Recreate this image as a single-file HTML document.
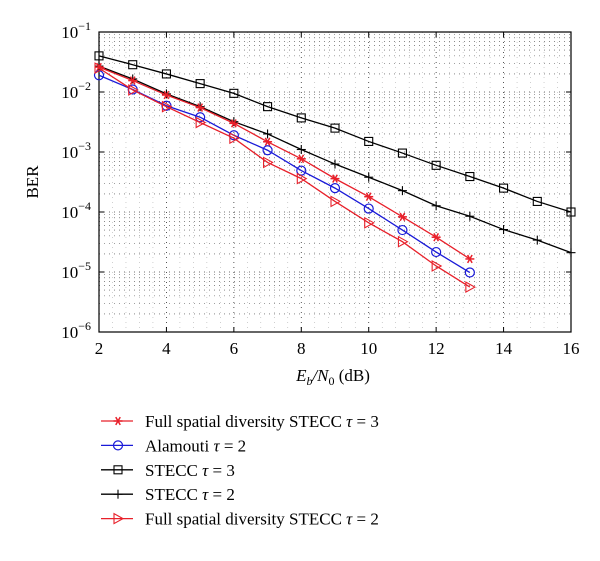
<!DOCTYPE html>
<html><head><meta charset="utf-8"><style>
body{margin:0;background:#fff;}
svg{display:block;font-family:"Liberation Serif",serif;}
</style></head><body>
<svg id="chart" width="600" height="561"></svg>
<script>
const xTicks=[2,4,6,8,10,12,14,16];
const yExps=[-1,-2,-3,-4,-5,-6];
const seriesNames=["Full spatial diversity STECC","Alamouti","STECC","STECC","Full spatial diversity STECC"];
const seriesTau=[3,2,3,2,2];
const xFull=[2,3,4,5,6,7,8,9,10,11,12,13];
const xLong=[2,3,4,5,6,7,8,9,10,11,12,13,14,15,16];
const berFull3=[0.026,0.0155,0.0089,0.0055,0.003,0.00148,0.00077,0.00036,0.00018,0.000083,0.000038,0.0000165];
const berAlamouti=[0.019,0.011,0.0059,0.0038,0.0019,0.00107,0.00049,0.00025,0.000114,0.00005,0.0000215,0.0000098];
const berStecc3=[0.040,0.0285,0.020,0.0138,0.0095,0.0057,0.0037,0.0025,0.0015,0.00096,0.0006,0.00039,0.00025,0.00015,0.0001];
const berStecc2=[0.027,0.0165,0.0093,0.0057,0.0032,0.002,0.0011,0.00063,0.00038,0.000227,0.000127,0.000085,0.000051,0.000034,0.000021];
const berFull2=[0.025,0.0108,0.0057,0.0031,0.0017,0.00067,0.00036,0.00015,0.000066,0.000032,0.0000126,0.0000056];

const NS="http://www.w3.org/2000/svg";
const svg=document.getElementById('chart');
const L=99,R=571,T=32,B=332;
function sx(v){return L+(v-2)/(16-2)*(R-L);}
function sy(v){return T+(-1-Math.log10(v))/5*(B-T);}
function mk(tag,attrs,parent){const e=document.createElementNS(NS,tag);for(const k in attrs)e.setAttribute(k,attrs[k]);(parent||svg).appendChild(e);return e;}

const grid=mk('g',{});


for(let e=-6;e<-1;e++){for(let m=1;m<=9;m++){const v=m*Math.pow(10,e);const y=sy(v);
 mk('line',{x1:L,x2:R,y1:y,y2:y,stroke:'#444','stroke-width':m==1?0.8:0.6,'stroke-dasharray':'1,4'},grid);}}
for(let x=2.4;x<16;x+=0.4){const X=sx(x);
 mk('line',{x1:X,x2:X,y1:T,y2:B,stroke:'#888','stroke-width':0.4,'stroke-dasharray':'1,4'},grid);}
for(const t of xTicks){const X=sx(t);mk('line',{x1:X,x2:X,y1:T,y2:B,stroke:'#333','stroke-width':0.8,'stroke-dasharray':'1,4'},grid);}

const box=mk('rect',{x:L,y:T,width:R-L,height:B-T,fill:'none',stroke:'#000','stroke-width':1.2});


for(const t of xTicks){const X=sx(t);
 mk('line',{x1:X,x2:X,y1:B,y2:B-5,stroke:'#000'});mk('line',{x1:X,x2:X,y1:T,y2:T+5,stroke:'#000'});
 const tx=mk('text',{x:X,y:B+22,'text-anchor':'middle','font-size':17});tx.textContent=t;
 
 }
for(const e of yExps){const Y=sy(Math.pow(10,e));
 mk('line',{x1:L,x2:L+5,y1:Y,y2:Y,stroke:'#000'});mk('line',{x1:R,x2:R-5,y1:Y,y2:Y,stroke:'#000'});
 const tx=mk('text',{x:L-8,y:Y+6,'text-anchor':'end','font-size':17});
 tx.innerHTML='10<tspan dy="-8" font-size="12">'+(e<0?'−':'')+Math.abs(e)+'</tspan>';
 
 }
const yl=mk('text',{x:0,y:0,transform:'translate(38,182) rotate(-90)','text-anchor':'middle','font-size':17});yl.textContent='BER';


const xl=mk('text',{x:333,y:381,'text-anchor':'middle','font-size':17});
xl.innerHTML='<tspan font-style="italic">E</tspan><tspan font-style="italic" font-size="12" dy="4">b</tspan><tspan dy="-4" font-style="italic">/N</tspan><tspan font-size="12" dy="4">0</tspan><tspan dy="-4"> (dB)</tspan>';



function marker(g,type,x,y,c){
 if(type=='star'){for(const a of [0,60,120]){const r=a*Math.PI/180;mk('line',{x1:x-4.5*Math.cos(r),y1:y-4.5*Math.sin(r),x2:x+4.5*Math.cos(r),y2:y+4.5*Math.sin(r),stroke:c,'stroke-width':1.5},g);}}
 else if(type=='circle')mk('circle',{cx:x,cy:y,r:4.5,fill:'none',stroke:c,'stroke-width':1.2},g);
 else if(type=='square')mk('rect',{x:x-4,y:y-4,width:8,height:8,fill:'none',stroke:c,'stroke-width':1.1},g);
 else if(type=='plus'){mk('line',{x1:x-4.5,x2:x+4.5,y1:y,y2:y,stroke:c,'stroke-width':1.1},g);mk('line',{x1:x,x2:x,y1:y-4.5,y2:y+4.5,stroke:c,'stroke-width':1.1},g);}
 else if(type=='tri')mk('polygon',{points:`${x-4},${y-5} ${x+5},${y} ${x-4},${y+5}`,fill:'none',stroke:c,'stroke-width':1.1},g);
}
const series=[
 {xs:xLong,ys:berStecc3,c:'#000',m:'square',n:'series-stecc-tau3'},
 {xs:xLong,ys:berStecc2,c:'#000',m:'plus',n:'series-stecc-tau2'},
 {xs:xFull,ys:berFull3,c:'#e8202a',m:'star',n:'series-full-tau3'},
 {xs:xFull,ys:berAlamouti,c:'#1a1ad8',m:'circle',n:'series-alamouti'},
 {xs:xFull,ys:berFull2,c:'#e8202a',m:'tri',n:'series-full-tau2'}];
for(const s of series){const g=mk('g',{});
 
 
 mk('polyline',{points:s.xs.map((x,i)=>sx(x)+','+sy(s.ys[i])).join(' '),fill:'none',stroke:s.c,'stroke-width':1.3},g);
 s.xs.forEach((x,i)=>marker(g,s.m,sx(x),sy(s.ys[i]),s.c));}

const legend=[{c:'#e8202a',m:'star'},{c:'#1a1ad8',m:'circle'},{c:'#000',m:'square'},{c:'#000',m:'plus'},{c:'#e8202a',m:'tri'}];
const lg=mk('g',{});


legend.forEach((l,i)=>{const y=421+i*24.4;const g=mk('g',{},lg);
 
 
 mk('line',{x1:101,x2:133,y1:y,y2:y,stroke:l.c,'stroke-width':1.3},g);
 marker(g,l.m,118,y,l.c);
 const t=mk('text',{x:145,y:y+6,'font-size':17},g);
 t.innerHTML=seriesNames[i]+' <tspan font-style="italic">τ</tspan> = '+seriesTau[i];});
</script>
</body></html>
